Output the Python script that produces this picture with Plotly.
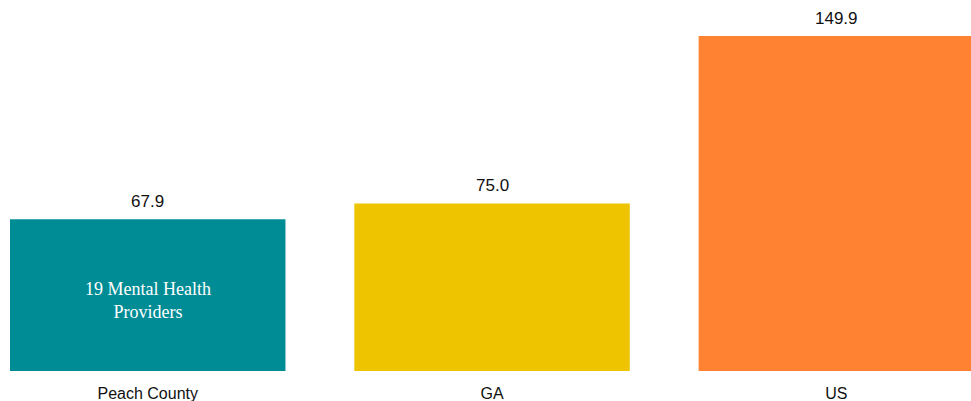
import plotly.graph_objects as go

categories = ["Peach County", "GA", "US"]
values = [67.9, 75.0, 149.9]
value_labels = ["67.9", "75.0", "149.9"]
colors = ["#008C95", "#EEC300", "#FF8233"]
inner_label = "19 Mental Health<br>Providers"

fig = go.Figure()
fig.add_trace(go.Bar(
    x=list(range(len(categories))), y=values,
    marker=dict(color=colors, line=dict(width=0)),
    width=0.8, hoverinfo="skip",
))

for i, (v, t) in enumerate(zip(values, value_labels)):
    fig.add_annotation(x=i, y=v, text=t, showarrow=False, yanchor="bottom",
                       yshift=6, font=dict(family="Liberation Sans, Arial", size=17, color="#111"))

fig.add_annotation(x=0, y=values[0] / 2, text=inner_label, showarrow=False,
                   yshift=-5, font=dict(family="Liberation Serif, serif", size=18, color="white"))

fig.update_layout(
    width=971, height=401,
    margin=dict(l=10, r=0, t=36, b=30),
    plot_bgcolor="white", paper_bgcolor="white",
    showlegend=False,
    xaxis=dict(range=[-0.4, 2.391], tickmode="array", tickvals=list(range(len(categories))),
               ticktext=categories, showgrid=False, zeroline=False, showline=False,
               ticks="", ticklabelstandoff=11,
               tickfont=dict(family="Liberation Sans, Arial", size=16, color="#111")),
    yaxis=dict(range=[0, 149.9], visible=False, showgrid=False, zeroline=False),
)

fig.write_html("out.html", config={"displayModeBar": False, "staticPlot": True},
               post_script="document.body.style.margin='0';document.body.style.overflow='hidden';")
